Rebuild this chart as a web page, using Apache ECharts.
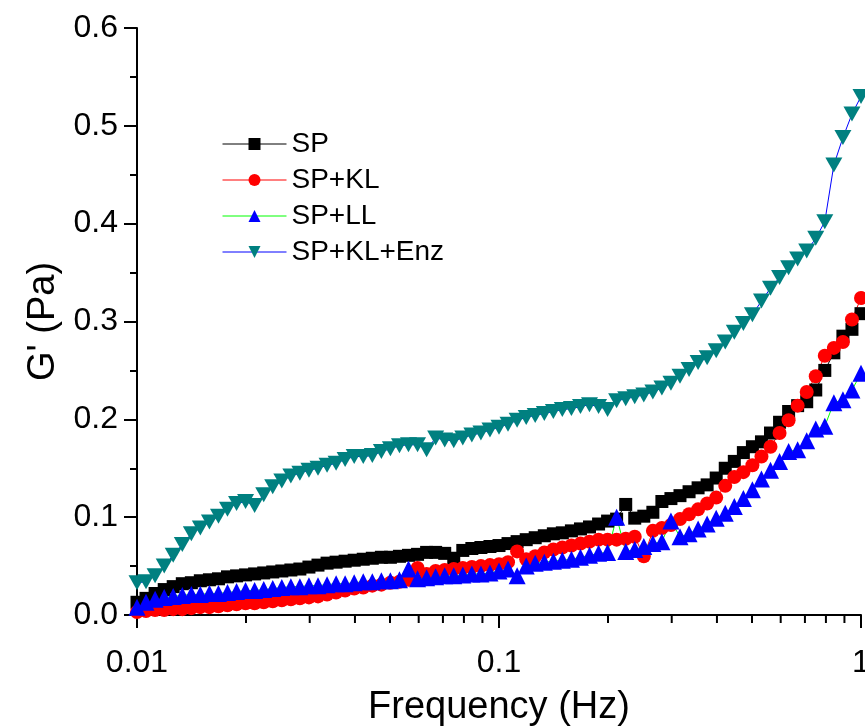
<!DOCTYPE html>
<html>
<head>
<meta charset="utf-8">
<script src="https://cdn.jsdelivr.net/npm/echarts@6/dist/echarts.min.js"></script>
<style>
html,body{margin:0;padding:0;background:#fff;overflow:hidden;}
#chart{width:865px;height:726px;}
</style>
</head>
<body>
<div id="chart"></div>
<script>
// Frequency (Hz)
const freq = [
0.01, 0.01059, 0.01122, 0.01189, 0.01259, 0.01334, 0.01413, 0.01496, 0.01585, 0.01679,
0.01778, 0.01884, 0.01995, 0.02113, 0.02239, 0.02371, 0.02512, 0.02661, 0.02818, 0.02985,
0.03162, 0.0335, 0.03548, 0.03758, 0.03981, 0.04217, 0.04467, 0.04732, 0.05012, 0.05309,
0.05623, 0.05957, 0.0631, 0.06683, 0.0708, 0.07499, 0.07943, 0.08414, 0.08913, 0.09441,
0.1, 0.1059, 0.1122, 0.1189, 0.1259, 0.1334, 0.1413, 0.1496, 0.1585, 0.1679,
0.1778, 0.1884, 0.1995, 0.2113, 0.2239, 0.2371, 0.2512, 0.2661, 0.2818, 0.2985,
0.3162, 0.335, 0.3548, 0.3758, 0.3981, 0.4217, 0.4467, 0.4732, 0.5012, 0.5309,
0.5623, 0.5957, 0.631, 0.6683, 0.708, 0.7499, 0.7943, 0.8414, 0.8913, 0.9441, 1.0
];

// G' (Pa)
const sp = [
0.013, 0.017, 0.022, 0.026, 0.029, 0.032, 0.033, 0.035, 0.036, 0.037,
0.039, 0.040, 0.041, 0.042, 0.043, 0.044, 0.045, 0.046, 0.047, 0.049,
0.051, 0.053, 0.054, 0.055, 0.056, 0.057, 0.058, 0.059, 0.059, 0.060,
0.061, 0.062, 0.064, 0.064, 0.063, 0.058, 0.066, 0.068, 0.069, 0.070,
0.071, 0.073, 0.075, 0.077, 0.079, 0.081, 0.083, 0.084, 0.086, 0.088,
0.090, 0.093, 0.096, 0.098, 0.113, 0.099, 0.101, 0.105, 0.116, 0.119,
0.122, 0.126, 0.130, 0.133, 0.140, 0.150, 0.157, 0.166, 0.172, 0.177,
0.186, 0.197, 0.208, 0.214, 0.218, 0.230, 0.250, 0.268, 0.285, 0.292, 0.308
];

const spKL = [
0.003, 0.004, 0.005, 0.005, 0.006, 0.006, 0.007, 0.008, 0.008, 0.009,
0.010, 0.011, 0.012, 0.012, 0.013, 0.014, 0.015, 0.016, 0.017, 0.018,
0.019, 0.021, 0.023, 0.025, 0.027, 0.028, 0.030, 0.031, 0.033, 0.034,
0.036, 0.048, 0.042, 0.045, 0.046, 0.047, 0.048, 0.049, 0.050, 0.051,
0.052, 0.054, 0.065, 0.057, 0.060, 0.064, 0.067, 0.069, 0.071, 0.073,
0.075, 0.077, 0.077, 0.077, 0.078, 0.080, 0.060, 0.086, 0.089, 0.092,
0.098, 0.103, 0.108, 0.114, 0.120, 0.132, 0.141, 0.146, 0.153, 0.162,
0.172, 0.186, 0.199, 0.214, 0.228, 0.244, 0.265, 0.273, 0.279, 0.302, 0.324
];

const spLL = [
0.008, 0.013, 0.016, 0.018, 0.019, 0.020, 0.021, 0.021, 0.022, 0.022,
0.023, 0.024, 0.025, 0.025, 0.026, 0.027, 0.028, 0.029, 0.029, 0.030,
0.030, 0.031, 0.032, 0.032, 0.033, 0.034, 0.034, 0.035, 0.035, 0.036,
0.047, 0.037, 0.038, 0.039, 0.040, 0.040, 0.041, 0.042, 0.042, 0.043,
0.045, 0.047, 0.040, 0.050, 0.053, 0.054, 0.055, 0.056, 0.057, 0.059,
0.061, 0.063, 0.064, 0.100, 0.065, 0.067, 0.070, 0.073, 0.075, 0.096,
0.080, 0.083, 0.088, 0.093, 0.099, 0.104, 0.111, 0.119, 0.128, 0.139,
0.148, 0.157, 0.167, 0.169, 0.178, 0.190, 0.193, 0.217, 0.220, 0.230, 0.247
];

const spKLEnz = [
0.033, 0.034, 0.040, 0.050, 0.061, 0.072, 0.083, 0.089, 0.095, 0.101,
0.108, 0.114, 0.116, 0.112, 0.123, 0.131, 0.137, 0.142, 0.145, 0.148,
0.150, 0.153, 0.155, 0.159, 0.162, 0.162, 0.163, 0.167, 0.170, 0.173,
0.174, 0.174, 0.169, 0.181, 0.179, 0.178, 0.181, 0.184, 0.186, 0.189,
0.192, 0.195, 0.199, 0.202, 0.204, 0.206, 0.208, 0.210, 0.211, 0.213,
0.215, 0.213, 0.210, 0.219, 0.221, 0.223, 0.225, 0.228, 0.232, 0.237,
0.244, 0.251, 0.258, 0.263, 0.270, 0.279, 0.289, 0.298, 0.307, 0.321,
0.334, 0.345, 0.355, 0.364, 0.372, 0.385, 0.402, 0.460, 0.488, 0.512, 0.530
];

const seriesNames = ['SP', 'SP+KL', 'SP+LL', 'SP+KL+Enz'];
const xTickLabels = ['0.01', '0.1', '1'];
const xMinorTicks = [0.02, 0.03, 0.04, 0.05, 0.06, 0.07, 0.08, 0.09,
                     0.2, 0.3, 0.4, 0.5, 0.6, 0.7, 0.8, 0.9];
const yTickLabels = ['0.0', '0.1', '0.2', '0.3', '0.4', '0.5', '0.6'];

const FONT = "'Liberation Sans', Arial, sans-serif";
const zip = (ys) => freq.map((f, i) => [f, ys[i]]);

const chart = echarts.init(document.getElementById('chart'), null, {renderer: 'canvas'});

function lineSeries(name, ys, symbol, size, fill, lineColor) {
  return {
    name: name,
    type: 'line',
    data: zip(ys),
    symbol: symbol,
    symbolSize: size,
    showSymbol: true,
    clip: false,
    itemStyle: {color: fill, borderWidth: 0},
    lineStyle: {color: lineColor, width: 1},
    emphasis: {disabled: true},
    animation: false
  };
}

const option = {
  backgroundColor: '#ffffff',
  animation: false,
  grid: {left: 137, right: 4, top: 28, bottom: 111, containLabel: false, outerBoundsMode: 'none'},
  legend: {
    data: seriesNames,
    orient: 'vertical',
    left: 217,
    top: 125,
    padding: 5,
    itemWidth: 64,
    itemHeight: 15,
    itemGap: 8,
    lineStyle: {width: 1},
    textStyle: {fontFamily: FONT, fontSize: 28, color: '#000', lineHeight: 28},
    selectedMode: false
  },
  xAxis: {
    type: 'log',
    logBase: 10,
    min: 0.01,
    max: 1,
    name: 'Frequency (Hz)',
    nameLocation: 'middle',
    nameGap: 74,
    nameTextStyle: {fontFamily: FONT, fontSize: 38, color: '#000'},
    axisLine: {show: true, lineStyle: {color: '#000', width: 2}},
    axisTick: {show: true, length: 13, lineStyle: {color: '#000', width: 2}},
    axisLabel: {
      fontFamily: FONT, fontSize: 32, color: '#000', margin: 32,
      formatter: (v) => xTickLabels[Math.round(Math.log10(v)) + 2]
    },
    splitLine: {show: false}
  },
  yAxis: {
    type: 'value',
    min: 0,
    max: 0.6,
    interval: 0.1,
    name: "G' (Pa)",
    nameLocation: 'middle',
    nameGap: 60,
    nameTextStyle: {fontFamily: FONT, fontSize: 38, color: '#000'},
    axisLine: {show: true, lineStyle: {color: '#000', width: 2}},
    axisTick: {show: true, length: 13, lineStyle: {color: '#000', width: 2}},
    minorTick: {show: true, splitNumber: 2, length: 7, lineStyle: {color: '#000', width: 2}},
    axisLabel: {
      fontFamily: FONT, fontSize: 32, color: '#000', margin: 19,
      formatter: (v) => yTickLabels[Math.round(v * 10)]
    },
    splitLine: {show: false}
  },
  series: [
    lineSeries(seriesNames[0], sp, 'rect', 13, '#000000', '#000000'),
    lineSeries(seriesNames[1], spKL, 'circle', 14, '#ff0000', '#ff0000'),
    lineSeries(seriesNames[2], spLL, 'triangle', 17, '#0000ff', '#00ff00'),
    lineSeries(seriesNames[3], spKLEnz, 'path://M0,0 L10,0 L5,8.66 Z', [17, 15], '#008080', '#0000ff'),
    {
      name: 'minorTicks',
      type: 'custom',
      silent: true,
      animation: false,
      data: xMinorTicks.map(v => [v, 0]),
      renderItem: function (params, api) {
        const p = api.coord([api.value(0), 0]);
        return {
          type: 'line',
          shape: {x1: p[0], y1: p[1], x2: p[0], y2: p[1] + 8},
          style: {stroke: '#000', lineWidth: 2}
        };
      },
      z: 5
    }
  ]
};

chart.setOption(option);
</script>
</body>
</html>
